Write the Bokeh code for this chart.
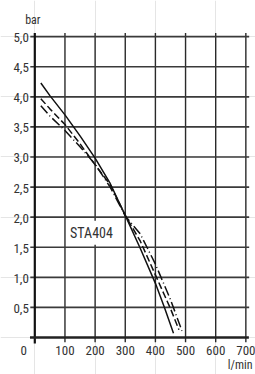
from bokeh.plotting import figure
from bokeh.models import Range1d, Label
from bokeh.core.properties import value
from bokeh.embed import file_html
from bokeh.resources import INLINE

# ---- data ----
flow_solid = [20, 50, 100, 150, 200, 250, 300, 350, 400, 430, 460]
head_solid = [4.23, 4.02, 3.70, 3.35, 2.98, 2.56, 2.03, 1.48, 0.90, 0.50, 0.07]

flow_dash = [20, 50, 100, 150, 200, 250, 300, 350, 400, 450, 478]
head_dash = [3.97, 3.80, 3.54, 3.22, 2.87, 2.54, 2.03, 1.60, 1.04, 0.48, 0.13]

flow_dashdot = [20, 50, 100, 150, 200, 250, 300, 350, 400, 450, 488]
head_dashdot = [3.85, 3.68, 3.44, 3.17, 2.88, 2.50, 2.02, 1.72, 1.22, 0.63, 0.11]

x_ticks = [100, 200, 300, 400, 500, 600, 700]
x_tick_labels = ["100", "200", "300", "400", "500", "600", "700"]
y_ticks = [0.5, 1.0, 1.5, 2.0, 2.5, 3.0, 3.5, 4.0, 4.5, 5.0]
y_tick_labels = ["0,5", "1,0", "1,5", "2,0", "2,5", "3,0", "3,5", "4,0", "4,5", "5,0"]

series_label = "STA404"
x_unit = "l/min"
y_unit = "bar"

FONT_NAME = "'Liberation Sans Narrow', 'Roboto Condensed', Roboto, sans-serif"
FONT = value(FONT_NAME)
TXT = "#333333"

p = figure(width=255, height=374, output_backend="svg", toolbar_location=None,
           x_axis_location=None, y_axis_location=None, min_border=0,
           x_range=Range1d(-113.8, 732.0), y_range=Range1d(-0.615, 5.601))
p.outline_line_color = None
p.background_fill_color = "white"
p.border_fill_color = "white"

x_lo, x_hi = -15, 711
y_lo, y_hi = -0.08, 5.06

# grid lines
p.segment(x0=x_ticks, y0=[y_lo] * len(x_ticks), x1=x_ticks, y1=[y_hi] * len(x_ticks),
          line_color="#2a2a2a", line_width=1.4)
p.segment(x0=[x_lo] * len(y_ticks), y0=y_ticks, x1=[x_hi] * len(y_ticks), y1=y_ticks,
          line_color="#3a3a3a", line_width=1.6)

# axes
p.segment(x0=[0], y0=[-0.1], x1=[0], y1=[y_hi], line_color="#111111", line_width=2.2)
p.segment(x0=[-16], y0=[0], x1=[710], y1=[0], line_color="#222222", line_width=2.6)

# curves
p.line(flow_solid, head_solid, line_color="#111111", line_width=1.5)
p.line(flow_dash, head_dash, line_color="#111111", line_width=1.5, line_dash="7 3")
p.line(flow_dashdot, head_dashdot, line_color="#111111", line_width=1.5, line_dash="10 3 1 3")

# tick labels
p.text(x=[0] * len(y_ticks), y=y_ticks, text=y_tick_labels, x_offset=-6, y_offset=1,
       text_align="right", text_baseline="middle", text_font=FONT,
       text_font_size="13px", text_color=TXT)
p.text(x=x_ticks, y=[0] * len(x_ticks), text=x_tick_labels, y_offset=13,
       text_align="center", text_baseline="middle", text_font=FONT,
       text_font_size="13px", text_color=TXT)
p.text(x=[0], y=[0], text=["0"], x_offset=-11, y_offset=13,
       text_align="center", text_baseline="middle", text_font=FONT,
       text_font_size="13px", text_color=TXT)

# units
p.text(x=[0], y=[5.0], text=[y_unit], x_offset=-2, y_offset=-17,
       text_align="center", text_baseline="middle", text_font=FONT,
       text_font_size="12px", text_color=TXT)
p.text(x=[732.0], y=[0], text=[x_unit], x_offset=-3, y_offset=28,
       text_align="right", text_baseline="middle", text_font=FONT,
       text_font_size="12px", text_color=TXT)

# series label with white box over the grid
p.add_layout(Label(x=188, y=1.74, text=series_label, text_align="center",
                   text_baseline="middle", text_font=FONT_NAME, text_font_size="14px",
                   text_color=TXT, background_fill_color="white", padding=4))

open("out.html", "w").write(file_html(p, INLINE))
